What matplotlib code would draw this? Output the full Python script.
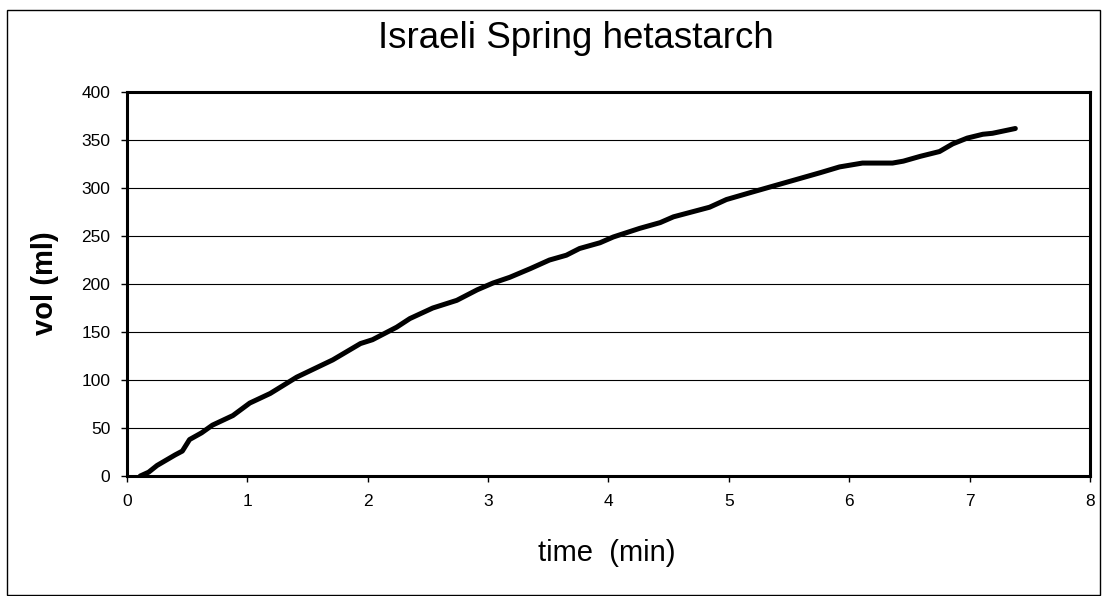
import matplotlib
matplotlib.use('Agg')
import matplotlib.pyplot as plt
from matplotlib.patches import Rectangle

plt.rcParams['font.family'] = ['Liberation Sans', 'DejaVu Sans']

# values
time_min = [0.11, 0.18, 0.25, 0.40, 0.46, 0.52, 0.62, 0.71, 0.88, 1.02, 1.19, 1.41,
            1.71, 1.94, 2.04, 2.24, 2.35, 2.54, 2.74, 2.91, 3.04, 3.18, 3.35, 3.51,
            3.65, 3.76, 3.93, 4.04, 4.26, 4.43, 4.54, 4.84, 4.98, 5.20, 5.48, 5.76,
            5.92, 6.11, 6.36, 6.45, 6.59, 6.75, 6.86, 6.98, 7.11, 7.19, 7.38]
vol_ml = [0, 4, 11, 22, 26, 38, 45, 53, 63, 76, 86, 103,
          121, 138, 142, 155, 164, 175, 183, 194, 201, 207, 216, 225,
          230, 237, 243, 249, 258, 264, 270, 280, 288, 296, 306, 316,
          322, 326, 326, 328, 333, 338, 346, 352, 356, 357, 362]

fig = plt.figure(figsize=(11.07, 5.96), dpi=100)
fig.patches.append(Rectangle((0.006, 0.002), 0.988, 0.982, transform=fig.transFigure,
                             fill=False, edgecolor='black', linewidth=1))

ax = fig.add_axes([0.1147, 0.2013, 0.8699, 0.6443])
ax.plot(time_min, vol_ml, color='black', linewidth=3.6, solid_capstyle='round')

ax.set_xlim(0, 8)
ax.set_ylim(0, 400)
ax.set_xticks(range(0, 9))
ax.set_yticks(range(0, 401, 50))
ax.yaxis.grid(True, color='black', linewidth=0.8)
ax.set_axisbelow(True)
for s in ax.spines.values():
    s.set_linewidth(2.2)
ax.tick_params(axis='both', labelsize=12.5, direction='out', length=4, width=1)
ax.tick_params(axis='x', pad=9)
ax.tick_params(axis='y', pad=8)

fig.text(0.52, 0.935, 'Israeli Spring hetastarch', ha='center', va='center', fontsize=26.5)
fig.text(0.548, 0.072, 'time  (min)', ha='center', va='center', fontsize=21)
fig.text(0.041, 0.525, 'vol (ml)', ha='center', va='center', fontsize=21,
         fontweight='bold', rotation=90)

fig.savefig('out.png', dpi=100)
